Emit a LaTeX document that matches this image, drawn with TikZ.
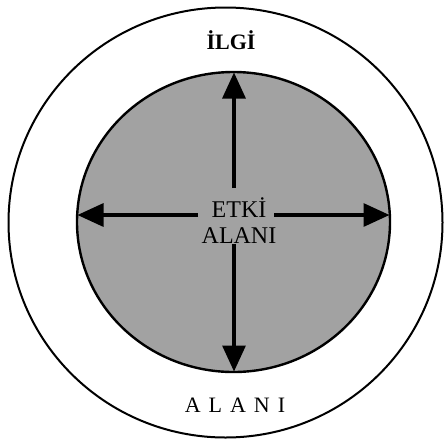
\documentclass[tikz,border=0pt]{standalone}
\usepackage{fontspec}
\setmainfont{Liberation Serif}
\usetikzlibrary{arrows.meta}
\definecolor{etkigray}{RGB}{162,162,162}
\tikzset{
  arr/.style={line width=3.2pt,-{Triangle[length=26pt,width=23pt]}},
  lbl/.style={inner sep=0pt,font=\fontsize{24}{26}\selectfont,align=center}
}
\begin{document}
\begin{tikzpicture}[x=1pt,y=-1pt]
\useasboundingbox (0,0) rectangle (444,440);
\fill[white] (0,0) rectangle (444,440);
% outer circle
\draw[line width=2pt] (225.5,222.5) ellipse [x radius=217, y radius=215];
% inner circle
\draw[line width=2.4pt,fill=etkigray] (233.5,222) ellipse [x radius=156.5, y radius=150];
% labels
\node[lbl,font=\bfseries\fontsize{22}{24}\selectfont,anchor=base] (ilgi) at (231,49) {İLGİ};
\node[lbl,font=\fontsize{22}{24}\selectfont,anchor=base] (alani) at (235,412) {A\hspace{8pt}L\hspace{8pt}A\hspace{8pt}N\hspace{8pt}I};
\node[lbl] (etki) at (239,221) {ETKİ\\ALANI};
% arrow ends
\coordinate (upS) at (234,188);
\coordinate (upE) at (234,72.5);
\coordinate (dnS) at (234,244);
\coordinate (dnE) at (234,371.5);
\coordinate (lfS) at (198,215);
\coordinate (lfE) at (77.5,215);
\coordinate (rtS) at (274,215);
\coordinate (rtE) at (389.5,215);
\draw[arr] (upS) -- (upE);
\draw[arr] (dnS) -- (dnE);
\draw[arr] (lfS) -- (lfE);
\draw[arr] (rtS) -- (rtE);
\end{tikzpicture}
\end{document}
